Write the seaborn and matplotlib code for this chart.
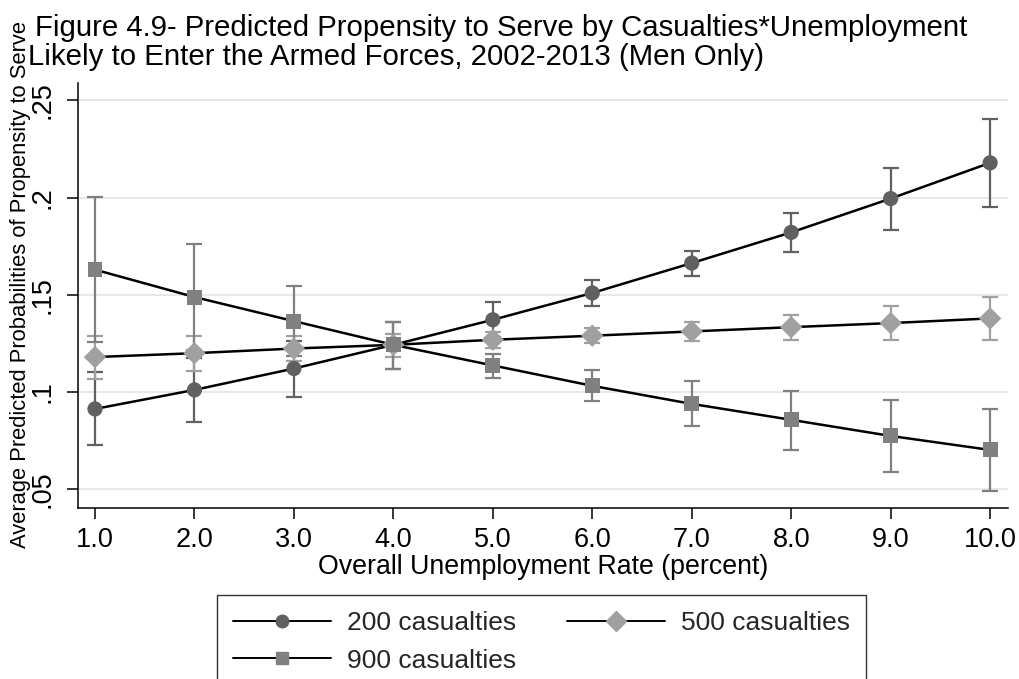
import numpy as np
import pandas as pd
import matplotlib
matplotlib.use("Agg")
import matplotlib.pyplot as plt
from matplotlib.lines import Line2D
import seaborn as sns

# Unemployment rate grid (percent)
unemployment = [1.0, 2.0, 3.0, 4.0, 5.0, 6.0, 7.0, 8.0, 9.0, 10.0]

# Average predicted probabilities and 95% CIs for each casualty level
pred_200 = [0.0912, 0.1010, 0.1120, 0.1242, 0.1371, 0.1509, 0.1663, 0.1821, 0.1995, 0.2179]
lo_200   = [0.0725, 0.0844, 0.0976, 0.1117, 0.1280, 0.1440, 0.1594, 0.1720, 0.1835, 0.1951]
hi_200   = [0.1100, 0.1176, 0.1264, 0.1362, 0.1462, 0.1574, 0.1727, 0.1921, 0.2153, 0.2406]

pred_500 = [0.1179, 0.1199, 0.1223, 0.1242, 0.1268, 0.1289, 0.1311, 0.1333, 0.1354, 0.1378]
lo_500   = [0.1067, 0.1105, 0.1160, 0.1180, 0.1228, 0.1249, 0.1261, 0.1268, 0.1268, 0.1268]
hi_500   = [0.1290, 0.1290, 0.1290, 0.1300, 0.1308, 0.1329, 0.1361, 0.1397, 0.1443, 0.1488]

pred_900 = [0.1629, 0.1488, 0.1364, 0.1242, 0.1136, 0.1031, 0.0938, 0.0856, 0.0773, 0.0701]
lo_900   = [0.1256, 0.1215, 0.1185, 0.1117, 0.1071, 0.0954, 0.0825, 0.0701, 0.0589, 0.0490]
hi_900   = [0.2001, 0.1761, 0.1543, 0.1362, 0.1196, 0.1113, 0.1057, 0.1005, 0.0959, 0.0912]

series_labels = ["200 casualties", "500 casualties", "900 casualties"]
series_colors = ["#606060", "#a0a0a0", "#808080"]
series_markers = ["o", "D", "s"]
marker_sizes = [120, 130, 115]

x_ticks = [1, 2, 3, 4, 5, 6, 7, 8, 9, 10]
x_tick_labels = ["1.0", "2.0", "3.0", "4.0", "5.0", "6.0", "7.0", "8.0", "9.0", "10.0"]
y_ticks = [0.05, 0.10, 0.15, 0.20, 0.25]
y_tick_labels = [".05", ".1", ".15", ".2", ".25"]

title_line1 = "Figure 4.9- Predicted Propensity to Serve by Casualties*Unemployment"
title_line2 = "Likely to Enter the Armed Forces, 2002-2013 (Men Only)"
x_title = "Overall Unemployment Rate (percent)"
y_title = "Average Predicted Probabilities of Propensity to Serve"

frames = []
for lab, p, lo, hi in zip(series_labels,
                          [pred_200, pred_500, pred_900],
                          [lo_200, lo_500, lo_900],
                          [hi_200, hi_500, hi_900]):
    frames.append(pd.DataFrame({"rate": unemployment, "pred": p,
                                "lo": lo, "hi": hi, "series": lab}))
df = pd.concat(frames, ignore_index=True)

sns.set_theme(style="white")
plt.rcParams["font.family"] = ["Liberation Sans", "DejaVu Sans"]

W, H = 1019, 679
fig = plt.figure(figsize=(W / 100, H / 100), dpi=100)
ax = fig.add_axes([78 / W, 1 - 508 / H, (1008 - 78) / W, (508 - 83) / H])

# confidence-interval caps drawn first
for lab, col in zip(series_labels, series_colors):
    d = df[df["series"] == lab]
    ax.errorbar(d["rate"], d["pred"],
                yerr=[d["pred"] - d["lo"], d["hi"] - d["pred"]],
                fmt="none", ecolor=col, elinewidth=1.6, capsize=6,
                capthick=1.6, zorder=2)

# connecting lines
sns.lineplot(data=df, x="rate", y="pred", units="series", estimator=None,
             color="black", linewidth=1.8, ax=ax, zorder=3, legend=False)

# markers
sns.scatterplot(data=df, x="rate", y="pred", hue="series", style="series",
                palette=dict(zip(series_labels, series_colors)),
                markers=dict(zip(series_labels, series_markers)),
                size="series", sizes=dict(zip(series_labels, marker_sizes)),
                edgecolor="none", linewidth=0, ax=ax, zorder=4, legend=False)

ax.set_xlim(0.829, 10.18)
ax.set_ylim(0.0402, 0.259)
ax.set_xticks(x_ticks)
ax.set_xticklabels(x_tick_labels, fontsize=19.5)
ax.set_yticks(y_ticks)
ax.set_yticklabels(y_tick_labels, fontsize=19.5, rotation=90, va="center")
ax.set_xlabel("")
ax.set_ylabel("")

ax.grid(axis="y", color="#e8e8e8", linewidth=1.5, zorder=0)
ax.grid(axis="x", visible=False)
ax.set_axisbelow(True)
for side in ["top", "right"]:
    ax.spines[side].set_visible(False)
for side in ["left", "bottom"]:
    ax.spines[side].set_color("black")
    ax.spines[side].set_linewidth(1.1)
ax.tick_params(axis="both", which="major", direction="out", length=8,
               width=1.1, color="black", labelcolor="black", left=True,
               bottom=True)
ax.tick_params(axis="x", pad=6)
ax.tick_params(axis="y", pad=8)

fig.text(35 / W, 1 - 36 / H, title_line1, fontsize=21.2, ha="left",
         va="baseline", color="black")
fig.text(28 / W, 1 - 65 / H, title_line2, fontsize=21.2, ha="left",
         va="baseline", color="black")
fig.text(543 / W, 1 - 567 / H, x_title, fontsize=19.3, ha="center",
         va="center", color="black")
fig.text(21 / W, 1 - 285 / H, y_title, fontsize=15.8, ha="center",
         va="center", rotation=90, color="black")

# legend filled row by row: 200 and 500 on the first row, 900 below
order = [0, 2, 1]
handles = [Line2D([0], [0], color="black", linewidth=1.4,
                  marker=series_markers[i], markersize=[9, 10, 8.5][i],
                  markerfacecolor=series_colors[i],
                  markeredgecolor=series_colors[i]) for i in order]
labels = [series_labels[i] for i in order]
leg = fig.legend(handles, labels, loc="upper left",
                 bbox_to_anchor=(217 / W, 1 - 595 / H), ncol=2, fontsize=19,
                 frameon=True, fancybox=False, edgecolor="black",
                 borderaxespad=0, handlelength=3.7, handletextpad=0.6,
                 columnspacing=1.95, borderpad=0.62, labelspacing=0.5)
leg.get_frame().set_linewidth(1.0)

fig.savefig("out.png", dpi=100, facecolor="white")
